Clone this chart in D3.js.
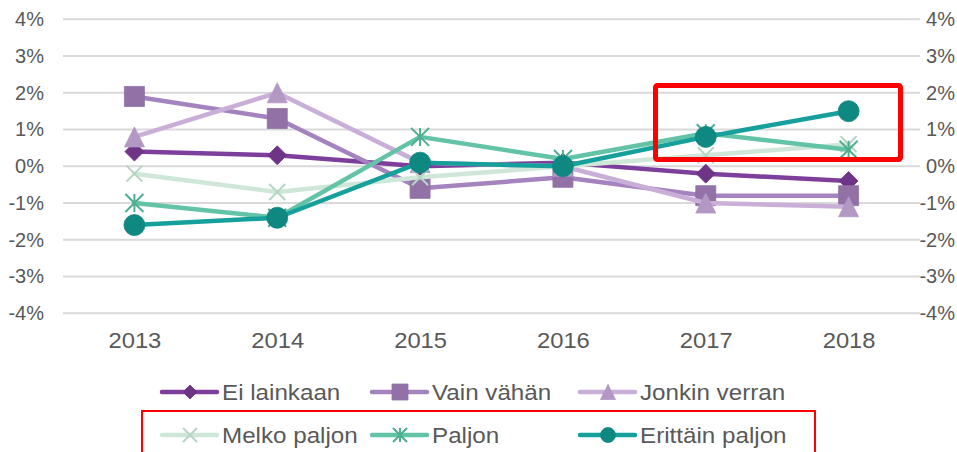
<!DOCTYPE html>
<html>
<head>
<meta charset="utf-8">
<script src="https://cdn.jsdelivr.net/npm/d3@7"></script>
<style>
  html, body { margin: 0; padding: 0; background: #fff; }
  svg { display: block; }
  text { font-family: "Liberation Sans", Arial, sans-serif; fill: #595959; }
</style>
</head>
<body>
<svg id="chart" width="957" height="452"></svg>
<script>
// ---- data ----
const years = ["2013", "2014", "2015", "2016", "2017", "2018"];
const yTicks = [-0.04, -0.03, -0.02, -0.01, 0, 0.01, 0.02, 0.03, 0.04];
const seriesNames = ["Ei lainkaan", "Vain vähän", "Jonkin verran", "Melko paljon", "Paljon", "Erittäin paljon"];
const eiLainkaan   = [0.004, 0.003, 0.000, 0.001, -0.002, -0.004];
const vainVahan    = [0.019, 0.013, -0.006, -0.003, -0.008, -0.008];
const jonkinVerran = [0.008, 0.020, 0.001, 0.000, -0.010, -0.011];
const melkoPaljon  = [-0.002, -0.007, -0.003, 0.000, 0.003, 0.006];
const paljon       = [-0.010, -0.014, 0.008, 0.002, 0.009, 0.0045];
const erittainPaljon = [-0.016, -0.014, 0.001, 0.000, 0.008, 0.015];
const seriesValues = [eiLainkaan, vainVahan, jonkinVerran, melkoPaljon, paljon, erittainPaljon];

// ---- styles ----
const styles = [
  {line: "#7e3f9c", marker: "#6e3486", shape: "diamond"},
  {line: "#a583bf", marker: "#9171a6", shape: "square"},
  {line: "#c9aed8", marker: "#b398c4", shape: "triangle"},
  {line: "#cfe7d8", marker: "#b6d6c4", shape: "x"},
  {line: "#62c3a7", marker: "#4fae90", shape: "asterisk"},
  {line: "#16a09b", marker: "#0f8882", shape: "circle"}
];

const svg = d3.select("#chart");
const plotL = 63, plotR = 920, plotT = 19.3, plotB = 313.3;

const x = d3.scalePoint().domain(years).range([plotL, plotR]).padding(0.5);
const y = d3.scaleLinear().domain([-0.04, 0.04]).range([plotB, plotT]);
const fmt = d => d3.format(".0%")(d).replace("−", "-");
const FONT = "'Liberation Sans', Arial, sans-serif";

// gridlines
svg.append("g").selectAll("line").data(yTicks).join("line")
  .attr("x1", plotL).attr("x2", plotR)
  .attr("y1", d => y(d)).attr("y2", d => y(d))
  .attr("stroke", "#d9d9d9").attr("stroke-width", 2);

// left axis
const yl = svg.append("g").attr("transform", `translate(${plotL},0)`)
  .call(d3.axisLeft(y).tickValues(yTicks).tickFormat(fmt).tickSize(0).tickPadding(19));
yl.select(".domain").remove();
yl.selectAll("text").attr("font-size", 20).attr("fill", "#595959").style("font-family", FONT);

// right axis (right-aligned)
const yr = svg.append("g").attr("transform", `translate(${plotR},0)`)
  .call(d3.axisRight(y).tickValues(yTicks).tickFormat(fmt).tickSize(0).tickPadding(35));
yr.select(".domain").remove();
yr.selectAll("text").attr("font-size", 20).attr("fill", "#595959").attr("text-anchor", "end")
  .style("font-family", FONT);

// x axis labels
const xa = svg.append("g").attr("transform", `translate(0,${plotB})`)
  .call(d3.axisBottom(x).tickSize(0).tickPadding(19));
xa.select(".domain").remove();
xa.selectAll("text").attr("font-size", 22).attr("fill", "#595959").style("font-family", FONT)
  .attr("transform", "scale(1.08,1)")
  .attr("x", function() { return 0; });
xa.selectAll(".tick text").each(function() {
  // keep label centered on its tick while stretching horizontally
  d3.select(this).attr("transform", "scale(1.08,1)");
});

// marker shapes
function markerPath(shape, s) {
  const h = s / 2;
  switch (shape) {
    case "diamond": return `M0,${-h}L${h},0L0,${h}L${-h},0Z`;
    case "square": return `M${-h},${-h}H${h}V${h}H${-h}Z`;
    case "triangle": return `M0,${-h}L${h},${h}L${-h},${h}Z`;
    case "x": return `M${-h},${-h}L${h},${h}M${h},${-h}L${-h},${h}`;
    case "asterisk": return `M${-h},${-h}L${h},${h}M${h},${-h}L${-h},${h}M0,${-h}V${h}`;
    case "circle": return d3.symbol(d3.symbolCircle, Math.PI * h * h)();
  }
}
function drawMarker(g, st, cx, cy, s) {
  const stroke = st.shape === "x" || st.shape === "asterisk";
  g.append("path")
    .attr("transform", `translate(${cx},${cy})`)
    .attr("d", markerPath(st.shape, s))
    .attr("fill", stroke ? "none" : st.marker)
    .attr("stroke", st.marker)
    .attr("stroke-width", stroke ? 2 : 0.8);
}

const line = d3.line().x((d, i) => x(years[i])).y(d => y(d));
const markerSize = {diamond: 19, square: 20, triangle: 20, x: 16, asterisk: 18, circle: 21};

seriesValues.forEach((vals, k) => {
  const st = styles[k];
  const g = svg.append("g");
  g.append("path").datum(vals).attr("d", line)
    .attr("fill", "none").attr("stroke", st.line).attr("stroke-width", 4.5)
    .attr("stroke-linejoin", "round").attr("stroke-linecap", "round");
  vals.forEach((v, i) => drawMarker(g, st, x(years[i]), y(v), markerSize[st.shape]));
});

// highlight box on plot
svg.append("rect")
  .attr("x", 655.5).attr("y", 85.5).attr("width", 245).attr("height", 74)
  .attr("rx", 2).attr("fill", "none").attr("stroke", "#ff0000").attr("stroke-width", 5);

// legend
const legendX = [162, 372, 580];
const legendY = [392, 435];
const legendMarker = {diamond: 14, square: 16, triangle: 15, x: 14, asterisk: 14, circle: 15};
const lg = svg.append("g");
seriesNames.forEach((name, k) => {
  const st = styles[k];
  const lx = legendX[k % 3], ly = legendY[Math.floor(k / 3)];
  lg.append("line").attr("x1", lx).attr("x2", lx + 55).attr("y1", ly).attr("y2", ly)
    .attr("stroke", st.line).attr("stroke-width", 4.5).attr("stroke-linecap", "round");
  drawMarker(lg, st, lx + 28, ly, legendMarker[st.shape]);
  lg.append("text").attr("transform", `translate(${lx + 60},${ly}) scale(1.1,1)`)
    .attr("dy", "0.35em").attr("font-size", 22).text(name);
});

// highlight box on legend
svg.append("rect")
  .attr("x", 142).attr("y", 411).attr("width", 673).attr("height", 60)
  .attr("fill", "none").attr("stroke", "#ff0000").attr("stroke-width", 2);
</script>
</body>
</html>
